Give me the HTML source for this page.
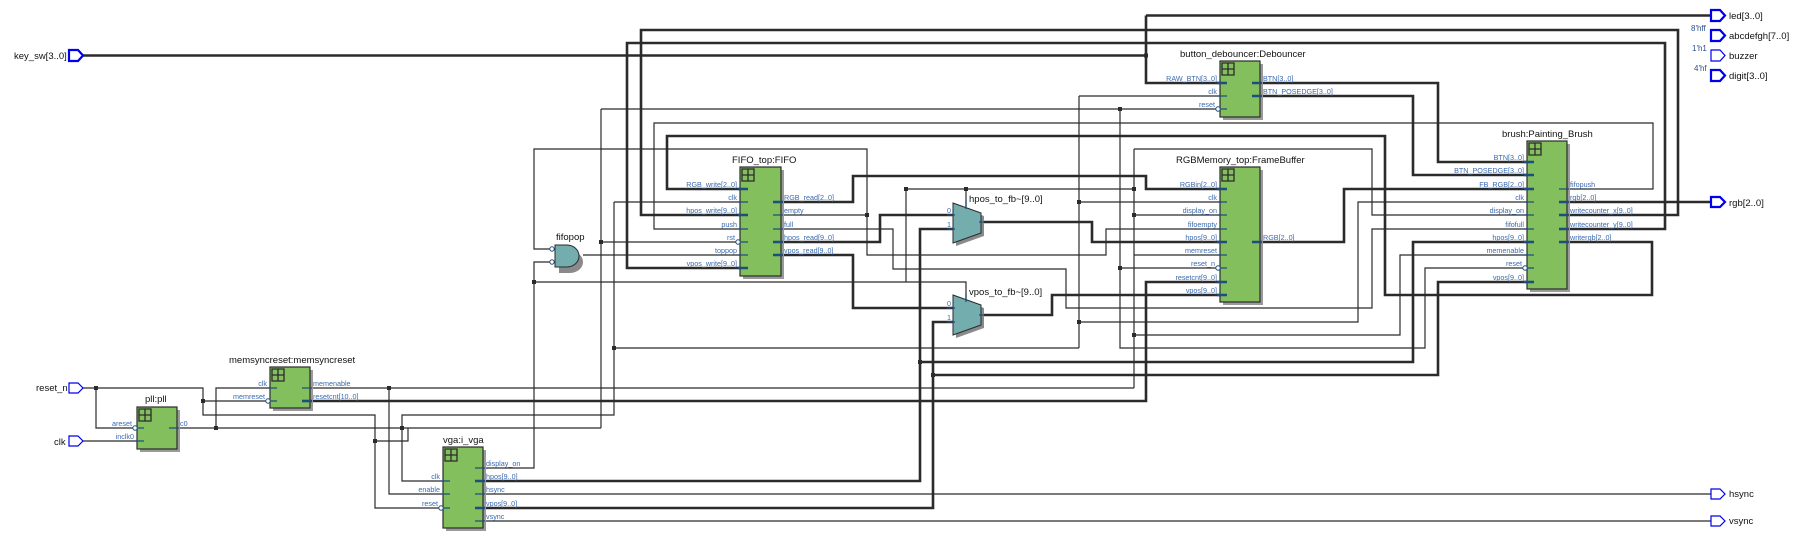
<!DOCTYPE html>
<html><head><meta charset="utf-8"><style>
html,body{margin:0;padding:0;background:#fff;}
svg{display:block;}
.t{stroke:#2b2b2b;stroke-width:1.2;fill:none;}
.b{stroke:#2b2b2b;stroke-width:2.6;fill:none;}
.blk{fill:#84bf5e;stroke:#2b2b2b;stroke-width:1.2;}
.sh{fill:#9a9a9a;}
.pl{font-family:"Liberation Sans",sans-serif;font-size:7.2px;fill:#3a6ab0;}
.ti{font-family:"Liberation Sans",sans-serif;font-size:9.5px;fill:#111;}
.io{font-family:"Liberation Sans",sans-serif;font-size:9.5px;fill:#111;}
.cst{font-family:"Liberation Sans",sans-serif;font-size:8px;fill:#2a4f8a;}
.stub{stroke:#1e4e7e;stroke-width:1.3;}
.stubb{stroke:#1e4e7e;stroke-width:2.6;}
.port{fill:#fff;stroke:#0000ee;stroke-width:2.2;}
.port1{fill:#fff;stroke:#0000ee;stroke-width:1.2;}
.j{fill:#2b2b2b;}
.mux{fill:#74adad;stroke:#2b2b2b;stroke-width:1;}
</style></head><body>
<svg width="1797" height="547" viewBox="0 0 1797 547" xmlns="http://www.w3.org/2000/svg">

<!-- ===== WIRES ===== -->
<!-- key_sw -->
<path class="b" d="M83 55.5 H1146 M1146 15.5 V83 H1220 M1146 15.5 H1711"/>
<!-- writecounter_x loop -->
<path class="b" d="M1567 215 H1678 V30 H641 V215 H740"/>
<!-- writecounter_y loop -->
<path class="b" d="M1567 229 H1665 V43 H627 V268 H740"/>
<!-- BTN -->
<path class="b" d="M1260 83 H1438 V162 H1527"/>
<path class="b" d="M1260 96 H1413 V175 H1527"/>
<!-- writergb -> RGB_write -->
<path class="b" d="M1567 242 H1652 V295 H1385 V136 H667 V189 H740"/>
<!-- fifopush -> push -->
<path class="t" d="M1567 189 H1653 V123 H654 V229 H740"/>
<!-- reset net -->
<path class="t" d="M601 109 H1220 M601 109 V428 M601 242 H740 M1120 109 V348 H1425 V268 H1527 M1120 268 H1220"/>
<!-- clk net -->
<path class="t" d="M614 202 H740 M614 202 V415 H402 V481 H442 M614 348 H1079 M1079 96 H1220 M1079 96 V348 M1079 202 H1220 M1079 322 H1358 V202 H1527"/>
<!-- empty net -->
<path class="t" d="M781 215 H867 V255 H1106 V229 H1220 M867 215 V149 H534 V249 H553"/>
<!-- full net -->
<path class="t" d="M781 229 H893 V269 H1066 V308 H1372 V229 H1527"/>
<!-- display_on net -->
<path class="t" d="M482 468 H534 V262 H553 M534 282 H966 V300 M906 282 V189 H1134 M966 189 V207 M1134 149 V388 M1134 215 H1220 M1134 149 H1372 V215 H1527 M1134 255 H1220"/>
<!-- memenable -->
<path class="t" d="M310 388 H1134 M1134 335 H1400 V255 H1527 M389 388 V494 H442"/>
<!-- resetcnt -->
<path class="b" d="M310 401 H1146 V282 H1220"/>
<!-- RGB_read -> RGBin -->
<path class="b" d="M781 202 H853 V176 H1146 V189 H1220"/>
<!-- hpos_read -> mux0 -->
<path class="b" d="M781 242 H880 V215 H953"/>
<!-- vpos_read -> vmux0 -->
<path class="b" d="M781 255 H853 V308 H953"/>
<!-- hmux out -> FB hpos -->
<path class="b" d="M981 222 H1092 V242 H1220"/>
<!-- vmux out -> FB vpos -->
<path class="b" d="M981 315 H1052 V295 H1220"/>
<!-- FB RGB -> FB_RGB -->
<path class="b" d="M1260 242 H1344 V189 H1527"/>
<!-- vga hpos -->
<path class="b" d="M482 481 H920 V229 H953 M920 362 H1413 V242 H1527"/>
<!-- vga vpos -->
<path class="b" d="M482 508 H933 V322 H953 M933 375 H1438 V282 H1527"/>
<!-- rgb out -->
<path class="b" d="M1567 202 H1711"/>
<!-- hsync / vsync -->
<path class="t" d="M482 494 H1711 M482 521 H1711"/>
<!-- toppop -->
<path class="t" d="M583 255 H740"/>
<!-- left: reset_n, clk, pll -->
<path class="t" d="M83 388 H203 V415 H375 V508 H442 M203 401 H270 M96 388 V428 H137 M83 441 H137 M177 428 H601 M216 428 V388 H270 M375 441 H408 V428"/>

<!-- junctions -->
<g class="j">
<rect x="1144" y="53.5" width="4" height="4"/>
<rect x="599" y="240" width="4" height="4"/>
<rect x="1118" y="107" width="4" height="4"/>
<rect x="1118" y="266" width="4" height="4"/>
<rect x="612" y="346" width="4" height="4"/>
<rect x="1077" y="200" width="4" height="4"/>
<rect x="1077" y="320" width="4" height="4"/>
<rect x="865" y="213" width="4" height="4"/>
<rect x="532" y="280" width="4" height="4"/>
<rect x="904" y="187" width="4" height="4"/>
<rect x="964" y="187" width="4" height="4"/>
<rect x="1132" y="187" width="4" height="4"/>
<rect x="1132" y="213" width="4" height="4"/>
<rect x="1132" y="333" width="4" height="4"/>
<rect x="387" y="386" width="4" height="4"/>
<rect x="918" y="360" width="4" height="4"/>
<rect x="931" y="373" width="4" height="4"/>
<rect x="94" y="386" width="4" height="4"/>
<rect x="201" y="399" width="4" height="4"/>
<rect x="214" y="426" width="4" height="4"/>
<rect x="400" y="426" width="4" height="4"/>
<rect x="373" y="439" width="4" height="4"/>
</g>

<!-- ===== BLOCKS ===== -->
<!-- Debouncer -->
<rect class="sh" x="1223" y="64" width="40" height="56"/>
<rect class="blk" x="1220" y="61" width="40" height="56"/>
<text class="ti" x="1180" y="57">button_debouncer:Debouncer</text>
<!-- FIFO -->
<rect class="sh" x="743" y="170" width="41" height="109"/>
<rect class="blk" x="740" y="167" width="41" height="109"/>
<text class="ti" x="732" y="163">FIFO_top:FIFO</text>
<!-- FrameBuffer -->
<rect class="sh" x="1223" y="170" width="40" height="135"/>
<rect class="blk" x="1220" y="167" width="40" height="135"/>
<text class="ti" x="1176" y="163">RGBMemory_top:FrameBuffer</text>
<!-- Brush -->
<rect class="sh" x="1530" y="144" width="40" height="148"/>
<rect class="blk" x="1527" y="141" width="40" height="148"/>
<text class="ti" x="1502" y="137">brush:Painting_Brush</text>
<!-- pll -->
<rect class="sh" x="140" y="410" width="40" height="42"/>
<rect class="blk" x="137" y="407" width="40" height="42"/>
<text class="ti" x="145" y="402">pll:pll</text>
<!-- memsync -->
<rect class="sh" x="273" y="370" width="40" height="41"/>
<rect class="blk" x="270" y="367" width="40" height="41"/>
<text class="ti" x="229" y="363">memsyncreset:memsyncreset</text>
<!-- vga -->
<rect class="sh" x="446" y="450" width="40" height="81"/>
<rect class="blk" x="443" y="447" width="40" height="81"/>
<text class="ti" x="443" y="443">vga:i_vga</text>

<!-- icons -->
<g fill="none" stroke="#2b2b2b" stroke-width="1.3">
<path d="M1222 63h12v12h-12z M1228 63v12 M1222 69h12"/>
<path d="M742 169h12v12h-12z M748 169v12 M742 175h12"/>
<path d="M1222 169h12v12h-12z M1228 169v12 M1222 175h12"/>
<path d="M1529 143h12v12h-12z M1535 143v12 M1529 149h12"/>
<path d="M139 409h12v12h-12z M145 409v12 M139 415h12"/>
<path d="M272 369h12v12h-12z M278 369v12 M272 375h12"/>
<path d="M445 449h12v12h-12z M451 449v12 M445 455h12"/>
</g>

<!-- pin stubs & labels -->
<g>
<!-- Debouncer -->
<path class="stubb" d="M1217 83h10 M1252 83h10 M1252 96h10"/>
<path class="stub" d="M1217 96h10 M1217 109h10"/>
<text class="pl" x="1217" y="81" text-anchor="end">RAW_BTN[3..0]</text>
<text class="pl" x="1217" y="94" text-anchor="end">clk</text>
<text class="pl" x="1215" y="107" text-anchor="end">reset</text>
<text class="pl" x="1263" y="81">BTN[3..0]</text>
<text class="pl" x="1263" y="94">BTN_POSEDGE[3..0]</text>
<!-- FIFO -->
<path class="stubb" d="M738 189h10 M738 215h10 M738 268h10 M773 202h10 M773 242h10 M773 255h10"/>
<path class="stub" d="M738 202h10 M738 229h10 M738 242h10 M738 255h10 M773 215h10 M773 229h10"/>
<text class="pl" x="737" y="187" text-anchor="end">RGB_write[2..0]</text>
<text class="pl" x="737" y="200" text-anchor="end">clk</text>
<text class="pl" x="737" y="213" text-anchor="end">hpos_write[9..0]</text>
<text class="pl" x="737" y="227" text-anchor="end">push</text>
<text class="pl" x="735" y="240" text-anchor="end">rst</text>
<text class="pl" x="737" y="253" text-anchor="end">toppop</text>
<text class="pl" x="737" y="266" text-anchor="end">vpos_write[9..0]</text>
<text class="pl" x="784" y="200">RGB_read[2..0]</text>
<text class="pl" x="784" y="213">empty</text>
<text class="pl" x="784" y="227">full</text>
<text class="pl" x="784" y="240">hpos_read[9..0]</text>
<text class="pl" x="784" y="253">vpos_read[9..0]</text>
<!-- FrameBuffer -->
<path class="stubb" d="M1217 189h10 M1217 242h10 M1217 282h10 M1217 295h10 M1252 242h10"/>
<path class="stub" d="M1217 202h10 M1217 215h10 M1217 229h10 M1217 255h10 M1217 268h10"/>
<text class="pl" x="1217" y="187" text-anchor="end">RGBin[2..0]</text>
<text class="pl" x="1217" y="200" text-anchor="end">clk</text>
<text class="pl" x="1217" y="213" text-anchor="end">display_on</text>
<text class="pl" x="1217" y="227" text-anchor="end">fifoempty</text>
<text class="pl" x="1217" y="240" text-anchor="end">hpos[9..0]</text>
<text class="pl" x="1217" y="253" text-anchor="end">memreset</text>
<text class="pl" x="1215" y="266" text-anchor="end">reset_n</text>
<text class="pl" x="1217" y="280" text-anchor="end">resetcnt[9..0]</text>
<text class="pl" x="1217" y="293" text-anchor="end">vpos[9..0]</text>
<text class="pl" x="1263" y="240">RGB[2..0]</text>
<!-- Brush -->
<path class="stubb" d="M1524 162h10 M1524 175h10 M1524 189h10 M1524 242h10 M1524 282h10 M1559 202h10 M1559 215h10 M1559 229h10 M1559 242h10"/>
<path class="stub" d="M1524 202h10 M1524 215h10 M1524 229h10 M1524 255h10 M1524 268h10 M1559 189h10"/>
<text class="pl" x="1524" y="160" text-anchor="end">BTN[3..0]</text>
<text class="pl" x="1524" y="173" text-anchor="end">BTN_POSEDGE[3..0]</text>
<text class="pl" x="1524" y="187" text-anchor="end">FB_RGB[2..0]</text>
<text class="pl" x="1524" y="200" text-anchor="end">clk</text>
<text class="pl" x="1524" y="213" text-anchor="end">display_on</text>
<text class="pl" x="1524" y="227" text-anchor="end">fifofull</text>
<text class="pl" x="1524" y="240" text-anchor="end">hpos[9..0]</text>
<text class="pl" x="1524" y="253" text-anchor="end">memenable</text>
<text class="pl" x="1522" y="266" text-anchor="end">reset</text>
<text class="pl" x="1524" y="280" text-anchor="end">vpos[9..0]</text>
<text class="pl" x="1570" y="187">fifopush</text>
<text class="pl" x="1570" y="200">rgb[2..0]</text>
<text class="pl" x="1570" y="213">writecounter_x[9..0]</text>
<text class="pl" x="1570" y="227">writecounter_y[9..0]</text>
<text class="pl" x="1570" y="240">writergb[2..0]</text>
<!-- pll -->
<path class="stub" d="M134 428h10 M134 441h10 M169 428h10"/>
<text class="pl" x="132" y="426" text-anchor="end">areset</text>
<text class="pl" x="134" y="439" text-anchor="end">inclk0</text>
<text class="pl" x="180" y="426">c0</text>
<!-- memsync -->
<path class="stub" d="M267 388h10 M267 401h10 M302 388h10"/>
<path class="stubb" d="M302 401h10"/>
<text class="pl" x="267" y="386" text-anchor="end">clk</text>
<text class="pl" x="265" y="399" text-anchor="end">memreset</text>
<text class="pl" x="313" y="386">memenable</text>
<text class="pl" x="313" y="399">resetcnt[10..0]</text>
<!-- vga -->
<path class="stub" d="M440 481h10 M440 494h10 M440 508h10 M475 468h10 M475 494h10 M475 521h10"/>
<path class="stubb" d="M475 481h10 M475 508h10"/>
<text class="pl" x="440" y="479" text-anchor="end">clk</text>
<text class="pl" x="440" y="492" text-anchor="end">enable</text>
<text class="pl" x="438" y="506" text-anchor="end">reset</text>
<text class="pl" x="486" y="466">display_on</text>
<text class="pl" x="486" y="479">hpos[9..0]</text>
<text class="pl" x="486" y="492">hsync</text>
<text class="pl" x="486" y="506">vpos[9..0]</text>
<text class="pl" x="486" y="519">vsync</text>
</g>

<!-- inversion bubbles -->
<g fill="#fff" stroke="#1e4e7e" stroke-width="1">
<circle cx="1218" cy="109" r="2.2"/>
<circle cx="738" cy="242" r="2.2"/>
<circle cx="1218" cy="268" r="2.2"/>
<circle cx="1525" cy="268" r="2.2"/>
<circle cx="135" cy="428" r="2.2"/>
<circle cx="268" cy="401" r="2.2"/>
<circle cx="441" cy="508" r="2.2"/>
<circle cx="552" cy="249" r="2.2"/>
<circle cx="552" cy="262" r="2.2"/>
</g>

<!-- fifopop AND gate -->
<path d="M557 249 H568 A13 11 0 0 1 568 271 H557 Z" fill="#8a8a8a" transform="translate(2,2)"/>
<path d="M555 245 H567 A12 11 0 0 1 567 267 H555 Z" fill="#74adad" stroke="#2b2b2b" stroke-width="1"/>
<text class="ti" x="556" y="240">fifopop</text>

<!-- muxes -->
<polygon points="956,206 984,216 984,236 956,246" fill="#8a8a8a"/>
<polygon class="mux" points="953,203 981,213 981,233 953,243"/>
<path class="stub" d="M947 215h8 M947 229h8 M979 222h5"/>
<path class="stub" d="M966 200v9"/>
<text class="pl" x="947" y="213">0</text>
<text class="pl" x="947" y="227">1</text>
<text class="ti" x="969" y="202">hpos_to_fb~[9..0]</text>

<polygon points="956,298 984,308 984,328 956,338" fill="#8a8a8a"/>
<polygon class="mux" points="953,295 981,305 981,325 953,335"/>
<path class="stub" d="M947 308h8 M947 322h8 M979 315h5"/>
<path class="stub" d="M966 293v9"/>
<text class="pl" x="947" y="306">0</text>
<text class="pl" x="947" y="320">1</text>
<text class="ti" x="969" y="295">vpos_to_fb~[9..0]</text>

<!-- I/O ports -->
<polygon class="port" points="69,50 78,50 83,55.5 78,61 69,61"/>
<text class="io" x="14" y="59">key_sw[3..0]</text>
<polygon class="port1" points="69,383 78,383 83,388 78,393 69,393"/>
<text class="io" x="36" y="391">reset_n</text>
<polygon class="port1" points="69,436 78,436 83,441 78,446 69,446"/>
<text class="io" x="54" y="445">clk</text>

<polygon class="port" points="1711,10 1720,10 1725,15.5 1720,21 1711,21"/>
<text class="io" x="1729" y="19">led[3..0]</text>
<polygon class="port" points="1711,30 1720,30 1725,35.5 1720,41 1711,41"/>
<text class="io" x="1729" y="39">abcdefgh[7..0]</text>
<text class="cst" x="1691" y="31">8'hff</text>
<polygon class="port1" points="1711,50 1720,50 1725,55.5 1720,61 1711,61"/>
<text class="io" x="1729" y="59">buzzer</text>
<text class="cst" x="1692" y="51">1'h1</text>
<polygon class="port" points="1711,70 1720,70 1725,75.5 1720,81 1711,81"/>
<text class="io" x="1729" y="79">digit[3..0]</text>
<text class="cst" x="1694" y="71">4'hf</text>
<polygon class="port" points="1711,197 1720,197 1725,202 1720,207 1711,207"/>
<text class="io" x="1729" y="206">rgb[2..0]</text>
<polygon class="port1" points="1711,489 1720,489 1725,494 1720,499 1711,499"/>
<text class="io" x="1729" y="497">hsync</text>
<polygon class="port1" points="1711,516 1720,516 1725,521 1720,526 1711,526"/>
<text class="io" x="1729" y="524">vsync</text>
</svg>
</body></html>
